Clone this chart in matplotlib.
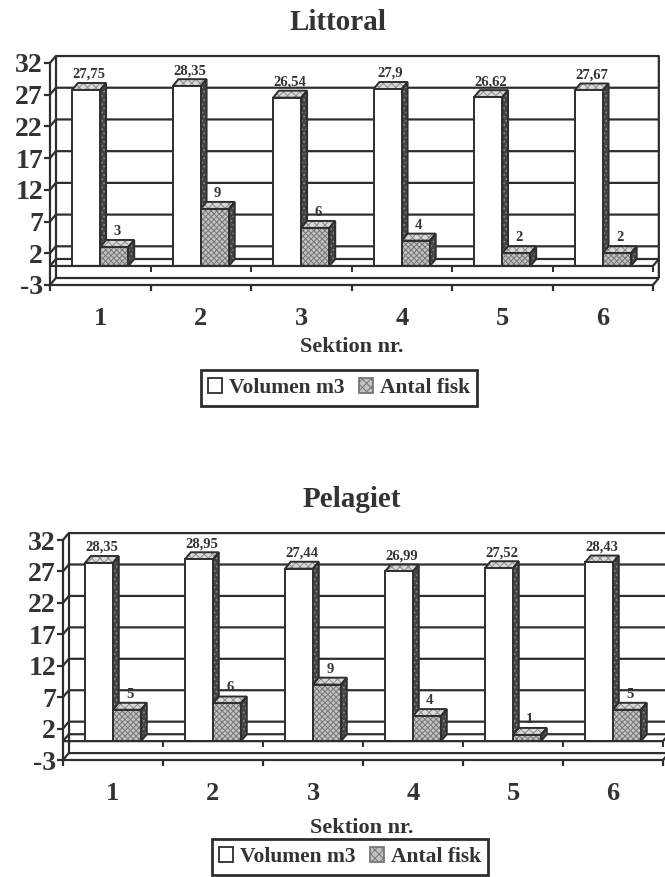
import matplotlib
matplotlib.use("Agg")
import matplotlib.pyplot as plt
from matplotlib.patches import Polygon, Patch

# ---- data -------------------------------------------------------------
sections = ["1", "2", "3", "4", "5", "6"]
littoral_volume = [27.75, 28.35, 26.54, 27.9, 26.62, 27.67]
littoral_fish = [3, 9, 6, 4, 2, 2]
pelagiet_volume = [28.35, 28.95, 27.44, 26.99, 27.52, 28.43]
pelagiet_fish = [5, 6, 9, 4, 1, 5]
y_ticks = [-3, 2, 7, 12, 17, 22, 27, 32]
series_names = ["Volumen m3", "Antal fisk"]

# ---- style ------------------------------------------------------------
plt.rcParams["font.family"] = ["Liberation Serif", "DejaVu Serif"]
plt.rcParams["font.weight"] = "bold"
plt.rcParams["hatch.linewidth"] = 0.7

INK = "#2e2e2e"
TEXT = "#333333"
GRAY_FACE = "#c2c2c2"
GRAY_HATCH = "#777777"
SIDE_FACE = "#444444"
TOP_FACE = "#d9d9d9"
LW = 1.6

FIG_W, FIG_H = 665, 877
DX, DY = 0.058, 1.1       # depth offset of the 3-D look (x in categories, y in values)
BAR_W = 0.28


def fmt(v):
    return f"{v:g}".replace(".", ",")


def add_axes_px(fig, left, right, top, bottom):
    return fig.add_axes([left / FIG_W, 1 - bottom / FIG_H,
                         (right - left) / FIG_W, (bottom - top) / FIG_H])


def seg(ax, xs, ys, z=2, lw=LW):
    ax.plot(xs, ys, color=INK, lw=lw, clip_on=False, zorder=z,
            solid_capstyle="butt")


def hatched(ax, poly, fc, hatch, hc, z):
    ax.add_patch(Polygon(poly, closed=True, fc=fc, ec=hc, lw=0,
                         hatch=hatch, clip_on=False, zorder=z))
    ax.add_patch(Polygon(poly, closed=True, fc="none", ec=INK, lw=1.4,
                         clip_on=False, zorder=z + 0.1, joinstyle="miter"))


def bar3d(ax, x0, v, front_fc, front_hatch, z):
    x1 = x0 + BAR_W
    front = [(x0, 0), (x1, 0), (x1, v), (x0, v)]
    side = [(x1, 0), (x1 + DX, DY), (x1 + DX, v + DY), (x1, v)]
    top = [(x0, v), (x0 + DX, v + DY), (x1 + DX, v + DY), (x1, v)]
    hatched(ax, side, SIDE_FACE, "....", "#8a8a8a", z)
    hatched(ax, top, TOP_FACE, "xxxx", "#8c8c8c", z)
    if front_hatch:
        hatched(ax, front, front_fc, front_hatch, GRAY_HATCH, z + 0.2)
    else:
        hatched(ax, front, front_fc, None, front_fc, z + 0.2)
    ax.annotate(fmt(v), xy=((x0 + x1) / 2 + DX / 2, v + DY),
                xytext=(0, 1.5), textcoords="offset points",
                ha="center", va="bottom", fontsize=10.5, color=TEXT,
                fontweight="bold", zorder=z + 1, annotation_clip=False)


def chart(fig, box, title, title_xy, volume, fish, xlabel_xy, legend_xy):
    ax = add_axes_px(fig, *box)
    n = len(sections)
    ax.set_xlim(0, n)
    ax.set_ylim(y_ticks[0], y_ticks[-1])
    ax.set_facecolor("none")
    for s in ("top", "right"):
        ax.spines[s].set_visible(False)
    for s in ("left", "bottom"):
        ax.spines[s].set_color(INK)
        ax.spines[s].set_linewidth(LW)
        ax.spines[s].set_zorder(2)

    ymin, ymax = y_ticks[0], y_ticks[-1]
    # back and side walls with gridlines
    for y in y_ticks[1:-1]:
        seg(ax, [0, DX, n + DX], [y, y + DY, y + DY], z=1)
    seg(ax, [0, DX, n + DX, n + DX], [ymax, ymax + DY, ymax + DY, ymin + DY], z=1)
    seg(ax, [DX, DX], [ymin + DY, ymax + DY], z=1)
    # zero plane and floor
    seg(ax, [0, DX, n + DX], [0, DY, DY], z=1)
    seg(ax, [0, n, n + DX], [0, 0, DY], z=20)
    seg(ax, [0, DX, n + DX], [ymin, ymin + DY, ymin + DY], z=1)
    seg(ax, [n, n + DX], [ymin, ymin + DY], z=1)
    for k in range(1, n + 1):
        seg(ax, [k, k], [0, -0.9], z=20, lw=1.4)

    # bars
    for i in range(n):
        c = i + 0.5
        bar3d(ax, c - BAR_W, volume[i], "white", None, z=3 + i)
        bar3d(ax, c, fish[i], GRAY_FACE, "xxxxxx", z=3.5 + i)

    # axes ticks
    ax.set_yticks(y_ticks)
    ax.set_yticklabels([str(t) for t in y_ticks])
    ax.tick_params(axis="y", direction="out", length=4, width=LW,
                   color=INK, labelsize=20, pad=1, labelcolor=TEXT)
    ax.set_xticks([i + 0.5 for i in range(n)])
    ax.set_xticklabels(sections)
    ax.set_xticks(range(n + 1), minor=True)
    ax.tick_params(axis="x", which="major", length=0, labelsize=19,
                   pad=16, labelcolor=TEXT)
    ax.tick_params(axis="x", which="minor", direction="out", length=4,
                   width=LW, color=INK)

    fig.text(title_xy[0] / FIG_W, 1 - title_xy[1] / FIG_H, title,
             ha="center", va="baseline", fontsize=21, color=TEXT,
             fontweight="bold")
    fig.text(xlabel_xy[0] / FIG_W, 1 - xlabel_xy[1] / FIG_H, "Sektion nr.",
             ha="center", va="baseline", fontsize=16, color=TEXT,
             fontweight="bold")

    handles = [Patch(fc="white", ec=INK, lw=1.3),
               Patch(fc=GRAY_FACE, ec=GRAY_HATCH, hatch="xxxx", lw=1.3)]
    leg = fig.legend(handles, series_names, ncol=2, loc="center",
                     bbox_to_anchor=(legend_xy[0] / FIG_W, 1 - legend_xy[1] / FIG_H),
                     prop={"size": 15.5, "weight": "bold"},
                     handlelength=0.65, handleheight=0.65, handletextpad=0.3,
                     columnspacing=0.7, borderpad=0.35, borderaxespad=0,
                     fancybox=False, framealpha=1, edgecolor=INK,
                     labelcolor=TEXT)
    leg.get_frame().set_linewidth(2)
    return ax


fig = plt.figure(figsize=(FIG_W / 100, FIG_H / 100), dpi=100)
fig.patch.set_facecolor("white")

chart(fig, (50, 653, 63, 285), "Littoral", (338, 30),
      littoral_volume, littoral_fish, (352, 352), (339, 388))
chart(fig, (63, 663, 540, 760), "Pelagiet", (352, 507),
      pelagiet_volume, pelagiet_fish, (362, 833), (350, 857))

fig.savefig("out.png", dpi=100, facecolor="white")
